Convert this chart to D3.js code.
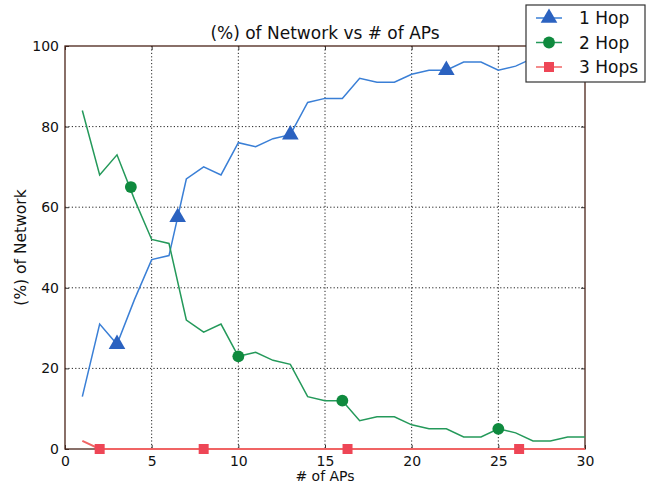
<!DOCTYPE html>
<html>
<head>
<meta charset="utf-8">
<script src="https://cdn.jsdelivr.net/npm/d3@7"></script>
<style>
  body { margin: 0; background: #fff; }
  text { font-family: "DejaVu Sans", sans-serif; fill: #111; }
</style>
</head>
<body>
<script>
// number of APs on the x axis
const aps = d3.range(1, 31)

const hop1 = [13, 31, 26, 37, 47, 48, 67, 70, 68, 76, 75, 77, 78, 86, 87,
              87, 92, 91, 91, 93, 94, 94, 96, 96, 94, 95, 97, 98, 97, 97]
const hop2 = [84, 68, 73, 62, 52, 51, 32, 29, 31, 23, 24, 22, 21, 13, 12,
              12, 7, 8, 8, 6, 5, 5, 3, 3, 5, 4, 2, 2, 3, 3]
const hop3 = [2, 0, 0, 0, 0, 0, 0, 0, 0, 0, 0, 0, 0, 0, 0,
              0, 0, 0, 0, 0, 0, 0, 0, 0, 0, 0, 0, 0, 0, 0]

// marker positions as they sit on each curve
const hop1Marks = [[3, 26], [6.5, 57.5], [13, 78], [22, 94], [28.5, 97.5]]
const hop2Marks = [[3.8, 65], [10, 23], [16, 12], [25, 5]]
const hop3Marks = [[2, 0], [8, 0], [16.3, 0], [26.2, 0]]

const xTicks = [0, 5, 10, 15, 20, 25, 30]
const yTicks = [0, 20, 40, 60, 80, 100]

const seriesNames = ["1 Hop", "2 Hop", "3 Hops"]

const width = 655, height = 487
const margin = {top: 46, right: 70, bottom: 38, left: 65}
const innerW = width - margin.left - margin.right
const innerH = height - margin.top - margin.bottom

const svg = d3.select("body").append("svg")
    .attr("width", width)
    .attr("height", height)

const g = svg.append("g")
    .attr("transform", `translate(${margin.left},${margin.top})`)

const x = d3.scaleLinear().domain([0, 30]).range([0, innerW])
const y = d3.scaleLinear().domain([0, 100]).range([innerH, 0])

// dotted grid
g.append("g").selectAll("line").data(xTicks.slice(1, -1)).join("line")
    .attr("x1", d => x(d)).attr("x2", d => x(d))
    .attr("y1", 0).attr("y2", innerH)
    .attr("stroke", "#222").attr("stroke-width", 1)
    .attr("stroke-dasharray", "1.2,2.2")
g.append("g").selectAll("line").data(yTicks.slice(1, -1)).join("line")
    .attr("y1", d => y(d)).attr("y2", d => y(d))
    .attr("x1", 0).attr("x2", innerW)
    .attr("stroke", "#222").attr("stroke-width", 1)
    .attr("stroke-dasharray", "1.2,2.2")

// axes with labels, ticks pointing inside like matplotlib
g.append("g")
    .attr("transform", `translate(0,${innerH})`)
    .call(d3.axisBottom(x).tickValues(xTicks).tickSize(-4).tickPadding(7))
g.append("g")
    .call(d3.axisLeft(y).tickValues(yTicks).tickSize(-4).tickPadding(6))
g.append("g")
    .call(d3.axisTop(x).tickValues(xTicks).tickSize(-4).tickFormat(""))
g.append("g")
    .attr("transform", `translate(${innerW},0)`)
    .call(d3.axisRight(y).tickValues(yTicks).tickSize(-4).tickFormat(""))

g.selectAll(".domain").remove()
g.selectAll(".tick line").attr("stroke", "#333")
g.selectAll(".tick text").style("font-size", "14px").attr("fill", "#111")

g.append("rect")
    .attr("width", innerW).attr("height", innerH)
    .attr("fill", "none")
    .attr("stroke", "#4a2419").attr("stroke-width", 1.3)

const line = d3.line()
    .x((d, i) => x(aps[i]))
    .y(d => y(d))

const series = [
    {name: seriesNames[0], values: hop1, marks: hop1Marks, line: "#3a7fd6", mark: "#2b62c0", shape: d3.symbolTriangle, size: 120},
    {name: seriesNames[1], values: hop2, marks: hop2Marks, line: "#24995a", mark: "#0f8a3e", shape: d3.symbolCircle, size: 110},
    {name: seriesNames[2], values: hop3, marks: hop3Marks, line: "#f06464", mark: "#ee4656", shape: d3.symbolSquare, size: 100}
]

series.forEach(s => {
    g.append("path")
        .datum(s.values)
        .attr("d", line)
        .attr("fill", "none")
        .attr("stroke", s.line)
        .attr("stroke-width", s.name === "3 Hops" ? 2 : 1.5)
})
series.forEach(s => {
    g.append("g").selectAll("path").data(s.marks).join("path")
        .attr("transform", d => `translate(${x(d[0])},${y(d[1])})`)
        .attr("d", d3.symbol().type(s.shape).size(s.size))
        .attr("fill", s.mark)
})

// title and axis labels
svg.append("text")
    .attr("x", margin.left + innerW / 2).attr("y", 39)
    .attr("text-anchor", "middle")
    .style("font-size", "17px")
    .text("(%) of Network vs # of APs")
svg.append("text")
    .attr("x", margin.left + innerW / 2).attr("y", 481)
    .attr("text-anchor", "middle")
    .style("font-size", "14px")
    .text("# of APs")
svg.append("text")
    .attr("transform", `translate(26,${margin.top + innerH / 2}) rotate(-90)`)
    .attr("text-anchor", "middle")
    .style("font-size", "15.5px")
    .text("(%) of Network")

// legend
const legend = svg.append("g").attr("transform", "translate(526,5)")
legend.append("rect")
    .attr("width", 119).attr("height", 77)
    .attr("fill", "#fff")
    .attr("stroke", "#333").attr("stroke-width", 1.2)
series.forEach((s, i) => {
    const ly = 13 + i * 24.5
    legend.append("line")
        .attr("x1", 10).attr("x2", 36).attr("y1", ly).attr("y2", ly)
        .attr("stroke", s.line).attr("stroke-width", 1.5)
    legend.append("path")
        .attr("transform", `translate(23,${ly})`)
        .attr("d", d3.symbol().type(s.shape).size(s.size))
        .attr("fill", s.mark)
    legend.append("text")
        .attr("x", 53).attr("y", ly + 6)
        .style("font-size", "17px")
        .text(s.name)
})
</script>
</body>
</html>
